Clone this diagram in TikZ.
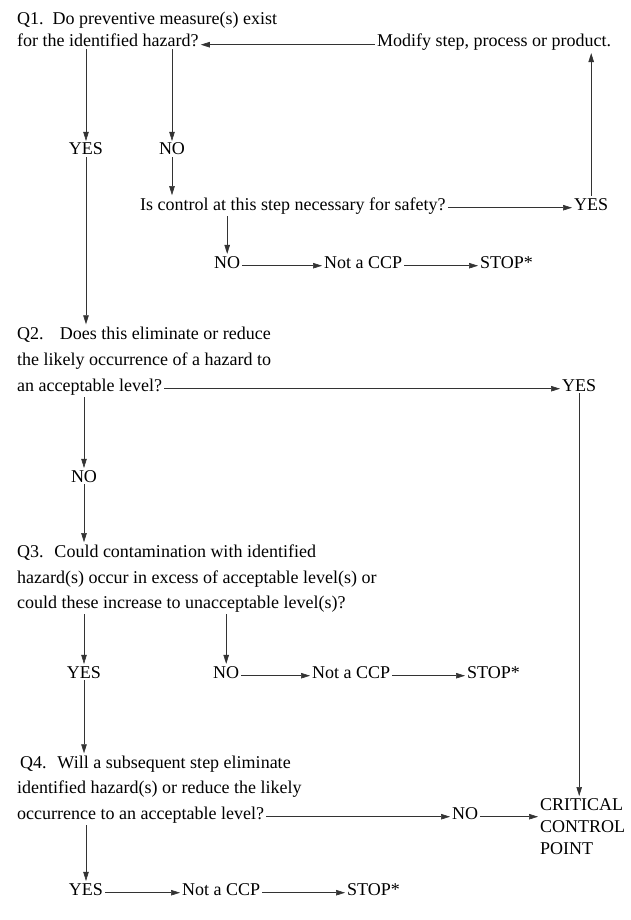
\documentclass[tikz,border=0pt]{standalone}
\usepackage{fontspec}
\setmainfont{Liberation Serif}
\usetikzlibrary{arrows.meta}
\begin{document}
\begin{tikzpicture}[x=1pt, y=-1pt, font=\fontsize{18}{22}\selectfont,
  txt/.style={anchor=base west, inner sep=2pt},
  lbl/.style={anchor=base, inner sep=2pt},
  arr/.style={black!80, line width=0.6pt, -{Triangle[length=9pt,width=5.5pt]}}]
  \useasboundingbox (0,0) rectangle (630,920);
  % Q1
  \node[txt] (q1a) at (15,25) {Q1.\hspace{0.5em}Do preventive measure(s) exist};
  \node[txt] (q1b) at (15,47) {for the identified hazard?};
  \node[txt] (modify) at (375,47) {Modify step, process or product.};
  \node[lbl] (yes1) at (86,155) {YES};
  \node[lbl] (no1) at (172,155) {NO};
  \node[txt] (ctrl) at (138,210) {Is control at this step necessary for safety?};
  \node[txt] (yesc) at (572,210) {YES};
  \node[txt] (no2) at (212,268) {NO};
  \node[txt] (ncp1) at (322,268) {Not a CCP};
  \node[txt] (stop1) at (478,268) {STOP*};
  % Q2
  \node[txt] (q2a) at (15,339) {Q2.\hspace{0.9em}Does this eliminate or reduce};
  \node[txt] (q2b) at (15,365) {the likely occurrence of a hazard to};
  \node[txt] (q2c) at (15,391) {an acceptable level?};
  \node[txt] (yes2) at (560,391) {YES};
  \node[lbl] (no3) at (84,482) {NO};
  % Q3
  \node[txt] (q3a) at (15,557) {Q3.\hspace{0.6em}Could contamination with identified};
  \node[txt] (q3b) at (15,583) {hazard(s) occur in excess of acceptable level(s) or};
  \node[txt] (q3c) at (15,608) {could these increase to unacceptable level(s)?};
  \node[lbl] (yes3) at (84,678) {YES};
  \node[txt] (no4) at (211,678) {NO};
  \node[txt] (ncp2) at (310,678) {Not a CCP};
  \node[txt] (stop2) at (465,678) {STOP*};
  % Q4
  \node[txt] (q4a) at (18,768) {Q4.\hspace{0.6em}Will a subsequent step eliminate};
  \node[txt] (q4b) at (15,793) {identified hazard(s) or reduce the likely};
  \node[txt] (q4c) at (15,819) {occurrence to an acceptable level?};
  \node[txt] (no5) at (450,819) {NO};
  \node[anchor=north west, inner sep=2pt, align=left] (crit) at (538,796)
    {CRITICAL\\CONTROL\\POINT};
  \node[lbl] (yes4) at (86,895) {YES};
  \node[txt] (ncp3) at (180,895) {Not a CCP};
  \node[txt] (stop3) at (345,895) {STOP*};
  % connectors
  \draw[arr] (q1b.south -| yes1) -- (yes1.north);
  \draw[arr] (q1b.south -| no1) -- (no1.north);
  \draw[arr] (modify.mid west) -- (q1b.mid east);
  \draw[arr] (no1.south) -- (no1.south |- ctrl.north);
  \draw[arr] (ctrl.mid east) -- (yesc.mid west);
  \draw[arr] (yesc.north) -- (yesc.north |- modify.south);
  \draw[arr] (ctrl.south -| no2) -- (no2.north);
  \draw[arr] (no2.mid east) -- (ncp1.mid west);
  \draw[arr] (ncp1.mid east) -- (stop1.mid west);
  \draw[arr] (yes1.south) -- (yes1.south |- q2a.north);
  \draw[arr] (q2c.mid east) -- (yes2.mid west);
  \draw[arr] (yes2.south) -- (yes2.south |- crit.north);
  \draw[arr] (q2c.south -| no3) -- (no3.north);
  \draw[arr] (no3.south) -- (no3.south |- q3a.north);
  \draw[arr] (q3c.south -| yes3) -- (yes3.north);
  \draw[arr] (q3c.south -| no4) -- (no4.north);
  \draw[arr] (no4.mid east) -- (ncp2.mid west);
  \draw[arr] (ncp2.mid east) -- (stop2.mid west);
  \draw[arr] (yes3.south) -- (yes3.south |- q4a.north);
  \draw[arr] (q4c.mid east) -- (no5.mid west);
  \draw[arr] (no5.mid east) -- (crit.west |- no5.mid east);
  \draw[arr] (q4c.south -| yes4) -- (yes4.north);
  \draw[arr] (yes4.mid east) -- (ncp3.mid west);
  \draw[arr] (ncp3.mid east) -- (stop3.mid west);
\end{tikzpicture}
\end{document}
